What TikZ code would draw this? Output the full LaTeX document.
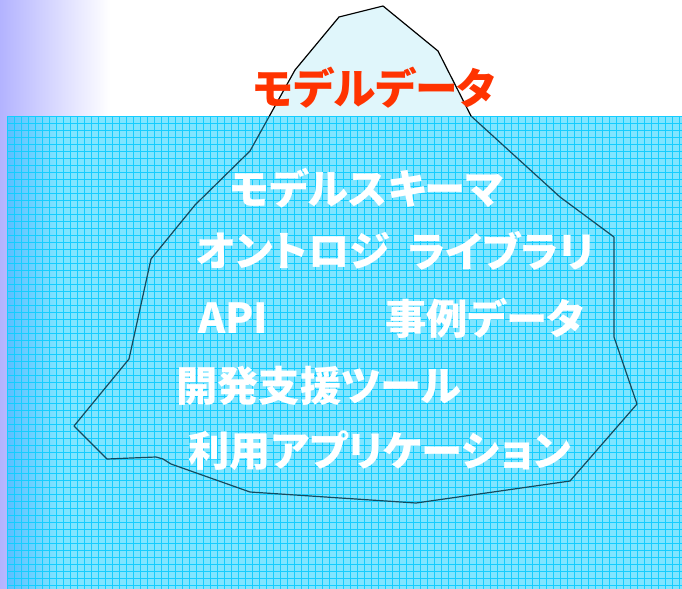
\documentclass[tikz,border=0pt]{standalone}
\usepackage{fontspec}
\usepackage{tikz}
\usetikzlibrary{positioning}
\newfontfamily\jpfont{Noto Sans CJK JP}[RawFeature=+palt]
\definecolor{sideblue}{RGB}{179,179,255}
\definecolor{seadark}{RGB}{92,192,255}
\definecolor{sealight}{RGB}{128,229,255}
\definecolor{seagrid}{RGB}{20,205,255}
\definecolor{icefill}{RGB}{224,246,251}
\definecolor{iceline}{RGB}{20,75,95}
\definecolor{titlered}{RGB}{255,51,0}
\tikzset {
  % text on the berg
  label/.style = {anchor=west, inner sep=0pt, font=\jpfont\bfseries\fontsize{31}{31}\selectfont},
  below/.style = {label, white},
  above/.style = {label, titlered, font=\jpfont\bfseries\fontsize{32}{32}\selectfont},
  % the outline of the berg
  berg/.style = {line width=0.9pt, line join=round},
}
\begin{document}
\begin{tikzpicture}[x=0.75pt, y=-0.75pt]
  \useasboundingbox (0,0) rectangle (682,589);
  % background strip
  \shade[left color=sideblue, right color=white] (0,0) rectangle (110,589);
  \fill[white] (110,0) rectangle (682,116);

  % berg above the water
  \coordinate (p1) at (339,17);
  \coordinate (p2) at (383,6);
  \coordinate (p3) at (438,51);
  \coordinate (p4) at (471,116);
  \coordinate (p5) at (560,197);
  \coordinate (p6) at (614,237);
  \coordinate (p7) at (614,337);
  \coordinate (p8) at (637,404);
  \coordinate (p9) at (570,481);
  \coordinate (p10) at (416,503);
  \coordinate (p11) at (250,492);
  \coordinate (p12) at (171,464);
  \coordinate (p13) at (163,459);
  \coordinate (p14) at (156,457);
  \coordinate (p15) at (107,459);
  \coordinate (p16) at (74,426);
  \coordinate (p17) at (129,359);
  \coordinate (p18) at (151,259);
  \coordinate (p19) at (195,205);
  \coordinate (p20) at (250,151);
  \coordinate (p21) at (295,70);
  \begin{scope}
    \clip (0,0) rectangle (682,116);
    \draw[berg, fill=icefill, draw=black] (p1) -- (p2) -- (p3) -- (p4) -- (p5) -- (p6) -- (p7) -- (p8)
      -- (p9) -- (p10) -- (p11) -- (p12) -- (p13) -- (p14) -- (p15) -- (p16) -- (p17)
      -- (p18) -- (p19) -- (p20) -- (p21) -- cycle;
  \end{scope}

  % the water
  \fill[sealight] (7,116) rectangle (682,589);
  \shade[left color=seadark, right color=sealight] (7,116) rectangle (60,589);
  \begin{scope}
    \clip (7,116) rectangle (682,589);
    \foreach \x in {0,...,97}
      \draw[seagrid, line width=0.45pt] (7+7*\x,116) -- (7+7*\x,589);
    \foreach \y in {0,...,68}
      \draw[seagrid, line width=0.45pt] (7,116+7*\y) -- (682,116+7*\y);
    \draw[berg, iceline] (p1) -- (p2) -- (p3) -- (p4) -- (p5) -- (p6) -- (p7) -- (p8)
      -- (p9) -- (p10) -- (p11) -- (p12) -- (p13) -- (p14) -- (p15) -- (p16) -- (p17)
      -- (p18) -- (p19) -- (p20) -- (p21) -- cycle;
  \end{scope}

  \node[above] (data) at (253,88) {モデルデータ};
  \node[below] (schema) at (230,188) {モデルスキーマ};
  \node[below] (onto) at (196,251) {オントロジ};
  \node[below] (lib) at (408,251) {ライブラリ};
  \node[below] (api) at (198,318) {API};
  \node[below] (case) at (385,318) {事例データ};
  \node[below] (tool) at (176,386) {開発支援ツール};
  \node[below] (app) at (188,451) {利用アプリケーション};
\end{tikzpicture}
\end{document}
